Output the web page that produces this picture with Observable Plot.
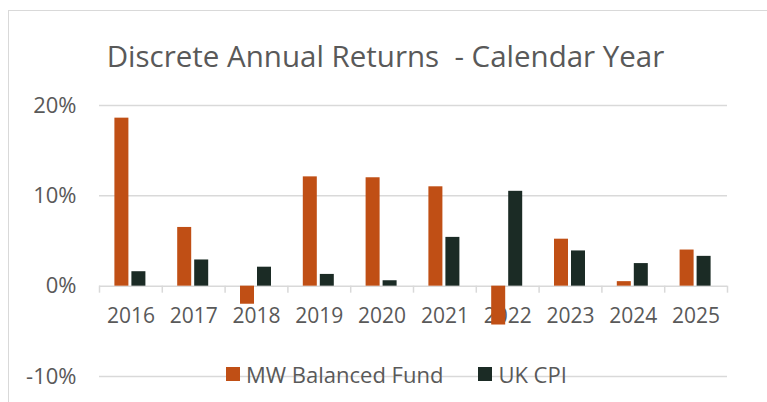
<!DOCTYPE html>
<html>
<head>
<meta charset="utf-8">
<script src="https://cdn.jsdelivr.net/npm/d3@7"></script>
<script src="https://cdn.jsdelivr.net/npm/@observablehq/plot@0.6"></script>
<style>
  body { margin: 0; background: #fff; }
  #wrap { position: relative; width: 767px; height: 402px; overflow: hidden; background: #fff; font-family: "Open Sans", sans-serif; color: #595959; }
  #frame { position: absolute; left: 8px; top: 10px; width: 900px; height: 600px; border: 1.5px solid #d9d9d9; box-sizing: border-box; }
  #title { position: relative; height: 80px; text-align: center; font-size: 29.5px; line-height: 1; padding-top: 41px; box-sizing: border-box; padding-left: 4px; }
  #legend { position: absolute; top: 359px; left: 226px; display: flex; align-items: center; font-size: 22px; }
  .sw { display: inline-block; width: 14px; height: 14px; margin-right: 6px; }
  .item { display: flex; align-items: center; margin-right: 35px; }
  svg { display: block; }
</style>
</head>
<body>
<div id="wrap">
  <div id="frame"></div>
  <div id="title">Discrete Annual Returns&nbsp; - Calendar Year</div>
  <div id="chart"></div>
  <div id="legend"></div>
</div>
<script>
const years = [2016, 2017, 2018, 2019, 2020, 2021, 2022, 2023, 2024, 2025];
const fundValues = [18.6, 6.5, -2.0, 12.1, 12.0, 11.0, -4.3, 5.2, 0.5, 4.0];
const cpiValues = [1.6, 2.9, 2.1, 1.3, 0.6, 5.4, 10.5, 3.9, 2.5, 3.3];
const seriesNames = ["MW Balanced Fund", "UK CPI"];
const seriesColors = ["#C04F15", "#1B2B25"];
const yTicks = [-10, 0, 10, 20];

const fund = years.map((y, i) => ({year: y, value: fundValues[i], series: seriesNames[0]}));
const cpi = years.map((y, i) => ({year: y, value: cpiValues[i], series: seriesNames[1]}));
const boundaries = d3.range(years[0] - 0.5, years[years.length - 1] + 1, 1);

const bandPx = (767 - 99 - 40) / years.length;

const chart = Plot.plot({
  width: 767,
  height: 322,
  marginLeft: 99,
  marginRight: 40,
  marginTop: 25,
  marginBottom: 26,
  style: {fontFamily: "Open Sans, sans-serif", color: "#595959", background: "transparent"},
  x: {domain: [years[0] - 0.5, years[years.length - 1] + 0.5], axis: null},
  y: {domain: [-10, 20], axis: null},
  marks: [
    Plot.gridY(yTicks, {stroke: "#d9d9d9", strokeOpacity: 1, strokeWidth: 1.5}),
    Plot.ruleX(boundaries, {y1: 0, y2: 0, insetBottom: -7, stroke: "#d9d9d9", strokeWidth: 1.5}),
    Plot.text(years, {x: d => d, y: 0, dy: 30, text: d => String(d), fontSize: 21, fill: "#595959"}),
    Plot.rectY(fund, {x1: d => d.year - 0.5, x2: d => d.year + 0.5, y1: 0, y2: "value", fill: seriesColors[0], insetLeft: 15.4, insetRight: bandPx - 29.4}),
    Plot.rectY(cpi, {x1: d => d.year - 0.5, x2: d => d.year + 0.5, y1: 0, y2: "value", fill: seriesColors[1], insetLeft: 32.4, insetRight: bandPx - 46.4}),
    Plot.axisY(yTicks, {tickFormat: d => d + "%", tickSize: 0, tickPadding: 23, fontSize: 22, fill: "#595959", label: null})
  ]
});
document.getElementById("chart").appendChild(chart);

const legend = document.getElementById("legend");
seriesNames.forEach((name, i) => {
  const item = document.createElement("div");
  item.className = "item";
  const sw = document.createElement("span");
  sw.className = "sw";
  sw.style.background = seriesColors[i];
  item.appendChild(sw);
  item.appendChild(document.createTextNode(name));
  legend.appendChild(item);
});
</script>
</body>
</html>
